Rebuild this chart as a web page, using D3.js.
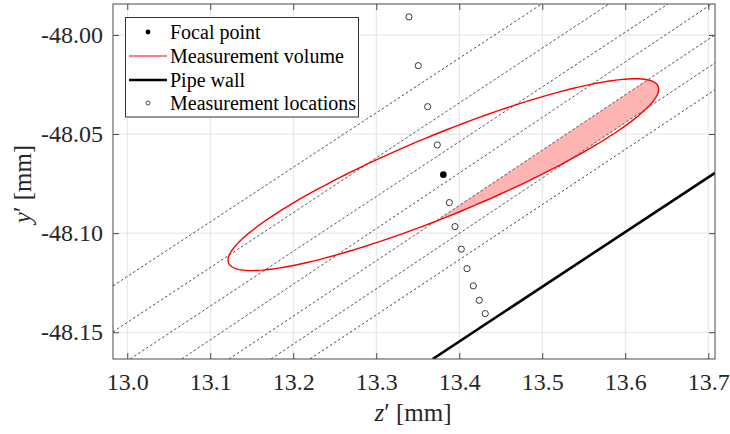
<!DOCTYPE html>
<html>
<head>
<meta charset="utf-8">
<script src="https://cdn.jsdelivr.net/npm/d3@7/dist/d3.min.js"></script>
<style>
  html, body { margin: 0; padding: 0; background: #ffffff; }
  svg { display: block; }
  text { font-family: "Liberation Serif", "Times New Roman", serif; fill: #262626; }
</style>
</head>
<body>
<svg id="chart" width="730" height="434"></svg>
<script>
// Axis ranges and tick labels (mm)
const zDomain = [12.9828, 13.7081];
const yDomain = [-48.1635, -47.9844];
const zTicks = [13.0, 13.1, 13.2, 13.3, 13.4, 13.5, 13.6, 13.7];
const yTicks = [-48.00, -48.05, -48.10, -48.15];

// Focal point of the probe
const focalZ = 13.3808;
const focalY = -48.0705;

// Measurement locations traversed towards the wall
const locZ = [13.3394, 13.3506, 13.3619, 13.3735, 13.3880, 13.3948, 13.4024, 13.4093, 13.4169, 13.4241, 13.4313];
const locY = [-47.9909, -48.0155, -48.0362, -48.0555, -48.0846, -48.0967, -48.1081, -48.1179, -48.1266, -48.1339, -48.1406];

// Pipe wall segment
const wallZ = [13.3680, 13.7081];
const wallY = [-48.1635, -48.0696];

// Dashed guide lines: start and end points
const guideZ0 = [12.9828, 12.9828, 13.0034, 13.0655, 13.1225, 13.1731, 13.2201];
const guideY0 = [-48.1266, -48.1498, -48.1635, -48.1635, -48.1635, -48.1635, -48.1635];
const guideZ1 = [13.4993, 13.5804, 13.6514, 13.7041, 13.7081, 13.7081, 13.7081];
const guideY1 = [-47.9844, -47.9844, -47.9844, -47.9844, -48.0000, -48.0141, -48.0277];

// Measurement volume: ellipse around the focal point (mm, degrees)
const volumeSemiMajor = 0.263;
const volumeSemiMinor = 0.0217;
const volumeTilt = 9.5;

// Slice of the volume between two guide lines (indices)
const sliceLines = [4, 5];

const legendLabels = ["Focal point", "Measurement volume", "Pipe wall", "Measurement locations"];

// ---- layout ----
const SERIF = '"Liberation Serif", "Times New Roman", serif';
const svg = d3.select("#chart");
const plot = { left: 113, right: 715, top: 4, bottom: 359 };

const x = d3.scaleLinear().domain(zDomain).range([plot.left, plot.right]);
const y = d3.scaleLinear().domain(yDomain).range([plot.bottom, plot.top]);

const defs = svg.append("defs");
defs.append("clipPath").attr("id", "plotClip")
  .append("rect")
  .attr("x", plot.left).attr("y", plot.top)
  .attr("width", plot.right - plot.left).attr("height", plot.bottom - plot.top);

// Ellipse outline sampled in data space
const th = volumeTilt * Math.PI / 180;
const ellipsePts = d3.range(0, 360, 2).map(deg => {
  const t = deg * Math.PI / 180;
  const u = volumeSemiMajor * Math.cos(t), v = volumeSemiMinor * Math.sin(t);
  return [focalZ + u * Math.cos(th) - v * Math.sin(th), focalY + u * Math.sin(th) + v * Math.cos(th)];
});
const ellipseLine = d3.line().x(d => x(d[0])).y(d => y(d[1])).curve(d3.curveLinearClosed);

defs.append("clipPath").attr("id", "volumeClip")
  .append("path").attr("d", ellipseLine(ellipsePts));

// grid
const grid = svg.append("g");
grid.selectAll(".gx").data(zTicks).join("line")
  .attr("x1", d => x(d)).attr("x2", d => x(d))
  .attr("y1", plot.top).attr("y2", plot.bottom)
  .attr("stroke", "#e3e3e3").attr("stroke-width", 1);
grid.selectAll(".gy").data(yTicks).join("line")
  .attr("y1", d => y(d)).attr("y2", d => y(d))
  .attr("x1", plot.left).attr("x2", plot.right)
  .attr("stroke", "#e3e3e3").attr("stroke-width", 1);

const body = svg.append("g").attr("clip-path", "url(#plotClip)");

// highlighted slice
const a = sliceLines[0], b = sliceLines[1];
const slicePoly = [
  [guideZ0[a], guideY0[a]], [guideZ1[a], guideY1[a]],
  [guideZ1[b], guideY1[b]], [guideZ0[b], guideY0[b]]
];
body.append("g").attr("clip-path", "url(#volumeClip)")
  .append("path")
  .attr("d", d3.line().x(d => x(d[0])).y(d => y(d[1])).curve(d3.curveLinearClosed)(slicePoly))
  .attr("fill", "#ffb4b4").attr("stroke", "none");

// dashed guide lines
body.selectAll(".guide").data(d3.range(guideZ0.length)).join("line")
  .attr("x1", i => x(guideZ0[i])).attr("y1", i => y(guideY0[i]))
  .attr("x2", i => x(guideZ1[i])).attr("y2", i => y(guideY1[i]))
  .attr("stroke", "#333").attr("stroke-width", 0.85)
  .attr("stroke-dasharray", "2.6,2.2");

// measurement volume outline
body.append("path").attr("d", ellipseLine(ellipsePts))
  .attr("fill", "none").attr("stroke", "#ff0000").attr("stroke-width", 1.4);

// pipe wall
body.append("line")
  .attr("x1", x(wallZ[0])).attr("y1", y(wallY[0]))
  .attr("x2", x(wallZ[1])).attr("y2", y(wallY[1]))
  .attr("stroke", "#000").attr("stroke-width", 2.6);

// measurement locations
body.selectAll(".loc").data(d3.range(locZ.length)).join("circle")
  .attr("cx", i => x(locZ[i])).attr("cy", i => y(locY[i]))
  .attr("r", 3.1).attr("fill", "none").attr("stroke", "#222").attr("stroke-width", 0.9);

// focal point
body.append("circle").attr("cx", x(focalZ)).attr("cy", y(focalY))
  .attr("r", 3.3).attr("fill", "#000");

// axes box and ticks
const axisColor = "#4a4a4a";
svg.append("rect")
  .attr("x", plot.left).attr("y", plot.top)
  .attr("width", plot.right - plot.left).attr("height", plot.bottom - plot.top)
  .attr("fill", "none").attr("stroke", axisColor).attr("stroke-width", 1);

const bottomAxis = d3.axisBottom(x).tickValues(zTicks).tickSizeInner(-6).tickSizeOuter(0)
  .tickPadding(14).tickFormat(d3.format(".1f"));
const gB = svg.append("g").attr("transform", `translate(0,${plot.bottom})`).call(bottomAxis);
const topAxis = d3.axisTop(x).tickValues(zTicks).tickSizeInner(-6).tickSizeOuter(0).tickFormat("");
const gT = svg.append("g").attr("transform", `translate(0,${plot.top})`).call(topAxis);
const leftAxis = d3.axisLeft(y).tickValues(yTicks).tickSizeInner(-6).tickSizeOuter(0)
  .tickPadding(10).tickFormat(d => d3.format(".2f")(d).replace("−", "-"));
const gL = svg.append("g").attr("transform", `translate(${plot.left},0)`).call(leftAxis);
const rightAxis = d3.axisRight(y).tickValues(yTicks).tickSizeInner(-6).tickSizeOuter(0).tickFormat("");
const gR = svg.append("g").attr("transform", `translate(${plot.right},0)`).call(rightAxis);

[gB, gT, gL, gR].forEach(g => {
  g.select(".domain").remove();
  g.selectAll(".tick line").attr("stroke", axisColor).attr("stroke-width", 1);
  g.selectAll(".tick text")
    .style("font-family", SERIF).style("font-size", "24px").style("fill", "#262626");
});

// axis titles
const xt = svg.append("text").attr("x", 413).attr("y", 421).attr("text-anchor", "middle")
  .style("font-family", SERIF).style("font-size", "25px");
xt.append("tspan").attr("font-style", "italic").text("z");
xt.append("tspan").text("′ [mm]");

const yt = svg.append("text").attr("transform", "translate(31,184) rotate(-90)")
  .attr("text-anchor", "middle")
  .style("font-family", SERIF).style("font-size", "25px");
yt.append("tspan").attr("font-style", "italic").text("y");
yt.append("tspan").text("′ [mm]");

// legend
const lg = svg.append("g");
lg.append("rect").attr("x", 125.5).attr("y", 17.5).attr("width", 233).attr("height", 99.5)
  .attr("fill", "#fff").attr("stroke", "#333").attr("stroke-width", 1);
const rowY = [32, 56, 80, 103];
lg.selectAll(".lt").data(legendLabels).join("text")
  .attr("x", 170).attr("y", (d, i) => rowY[i] + 7)
  .style("font-family", SERIF).style("font-size", "20px").style("fill", "#000")
  .text(d => d);
lg.append("circle").attr("cx", 148).attr("cy", rowY[0]).attr("r", 2.4).attr("fill", "#000");
lg.append("line").attr("x1", 129).attr("x2", 167).attr("y1", rowY[1]).attr("y2", rowY[1])
  .attr("stroke", "#ff0000").attr("stroke-width", 1.2);
lg.append("line").attr("x1", 129).attr("x2", 167).attr("y1", rowY[2]).attr("y2", rowY[2])
  .attr("stroke", "#000").attr("stroke-width", 2.4);
lg.append("circle").attr("cx", 148).attr("cy", rowY[3]).attr("r", 2).attr("fill", "none")
  .attr("stroke", "#222").attr("stroke-width", 0.8);
</script>
</body>
</html>
